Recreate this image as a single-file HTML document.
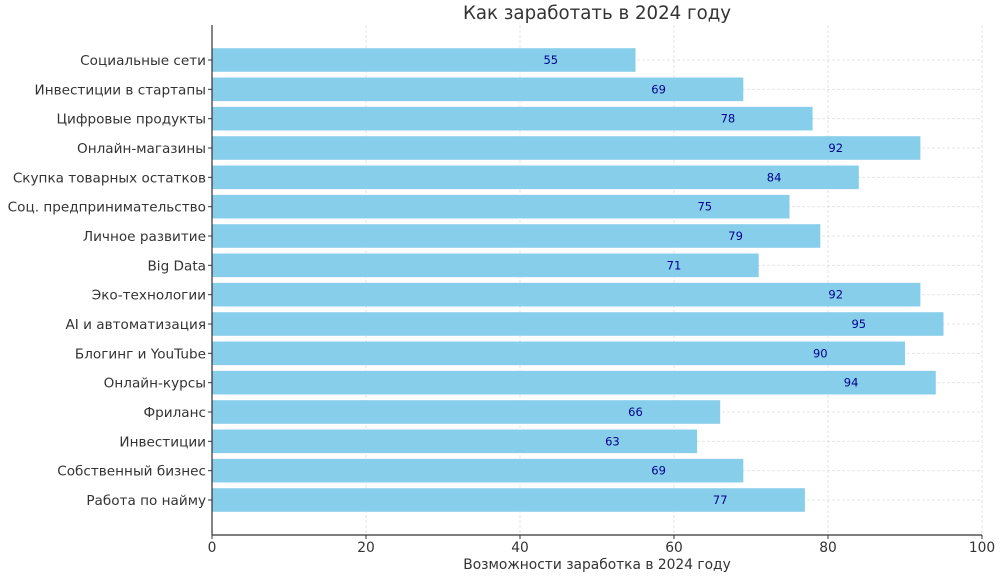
<!DOCTYPE html><html><head><meta charset="utf-8"><style>body{margin:0;background:#fff}text{font-family:"DejaVu Sans","Liberation Sans",sans-serif}</style></head><body>
<svg width="1000" height="577" xmlns="http://www.w3.org/2000/svg">
<g stroke="#ddd" stroke-dasharray="3,2" stroke-width="0.8">
<line x1="366" y1="25" x2="366" y2="535"/><line x1="520" y1="25" x2="520" y2="535"/><line x1="674" y1="25" x2="674" y2="535"/><line x1="828" y1="25" x2="828" y2="535"/><line x1="982" y1="25" x2="982" y2="535"/>
<line x1="212" x2="982" y1="60" y2="60"/><line x1="212" x2="982" y1="89.3" y2="89.3"/><line x1="212" x2="982" y1="118.7" y2="118.7"/><line x1="212" x2="982" y1="148" y2="148"/><line x1="212" x2="982" y1="177.3" y2="177.3"/><line x1="212" x2="982" y1="206.7" y2="206.7"/><line x1="212" x2="982" y1="236" y2="236"/><line x1="212" x2="982" y1="265.3" y2="265.3"/><line x1="212" x2="982" y1="294.7" y2="294.7"/><line x1="212" x2="982" y1="324" y2="324"/><line x1="212" x2="982" y1="353.3" y2="353.3"/><line x1="212" x2="982" y1="382.7" y2="382.7"/><line x1="212" x2="982" y1="412" y2="412"/><line x1="212" x2="982" y1="441.3" y2="441.3"/><line x1="212" x2="982" y1="470.7" y2="470.7"/><line x1="212" x2="982" y1="500" y2="500"/>
</g>
<g id="bars"></g>
<line x1="212" y1="25" x2="212" y2="535" stroke="#333" stroke-width="1.2"/>
<line x1="212" y1="535" x2="982" y2="535" stroke="#333" stroke-width="1.2"/>
<g font-size="13.8" fill="#333" text-anchor="middle">
<text x="212" y="552">0</text><text x="366" y="552">20</text><text x="520" y="552">40</text><text x="674" y="552">60</text><text x="828" y="552">80</text><text x="982" y="552">100</text>
<text x="597" y="569">Возможности заработка в 2024 году</text>
<text x="597" y="19" font-size="18.2">Как заработать в 2024 году</text>
</g>
<g stroke="#333"><line x1="212" x2="212" y1="535" y2="539"/><line x1="366" x2="366" y1="535" y2="539"/><line x1="520" x2="520" y1="535" y2="539"/><line x1="674" x2="674" y1="535" y2="539"/><line x1="828" x2="828" y1="535" y2="539"/><line x1="982" x2="982" y1="535" y2="539"/></g>
</svg>
<script>
const d=[["Социальные сети",55],["Инвестиции в стартапы",69],["Цифровые продукты",78],["Онлайн-магазины",92],["Скупка товарных остатков",84],["Соц. предпринимательство",75],["Личное развитие",79],["Big Data",71],["Эко-технологии",92],["AI и автоматизация",95],["Блогинг и YouTube",90],["Онлайн-курсы",94],["Фриланс",66],["Инвестиции",63],["Собственный бизнес",69],["Работа по найму",77]];
let s="";
d.forEach((r,i)=>{const y=60+i*29.333;const w=r[1]*7.7;
s+=`<rect x="212" y="${y-11.8}" width="${w}" height="23.6" fill="#87ceeb"/>`;
s+=`<text x="${212+(r[1]-11)*7.7}" y="${y+4}" font-size="11.5" fill="#00008b" text-anchor="middle">${r[1]}</text>`;
s+=`<line x1="208" x2="212" y1="${y}" y2="${y}" stroke="#333"/>`;
s+=`<text x="206" y="${y+5}" font-size="13.6" fill="#333" text-anchor="end">${r[0]}</text>`;});
document.getElementById("bars").innerHTML=s;
</script>
</body></html>
